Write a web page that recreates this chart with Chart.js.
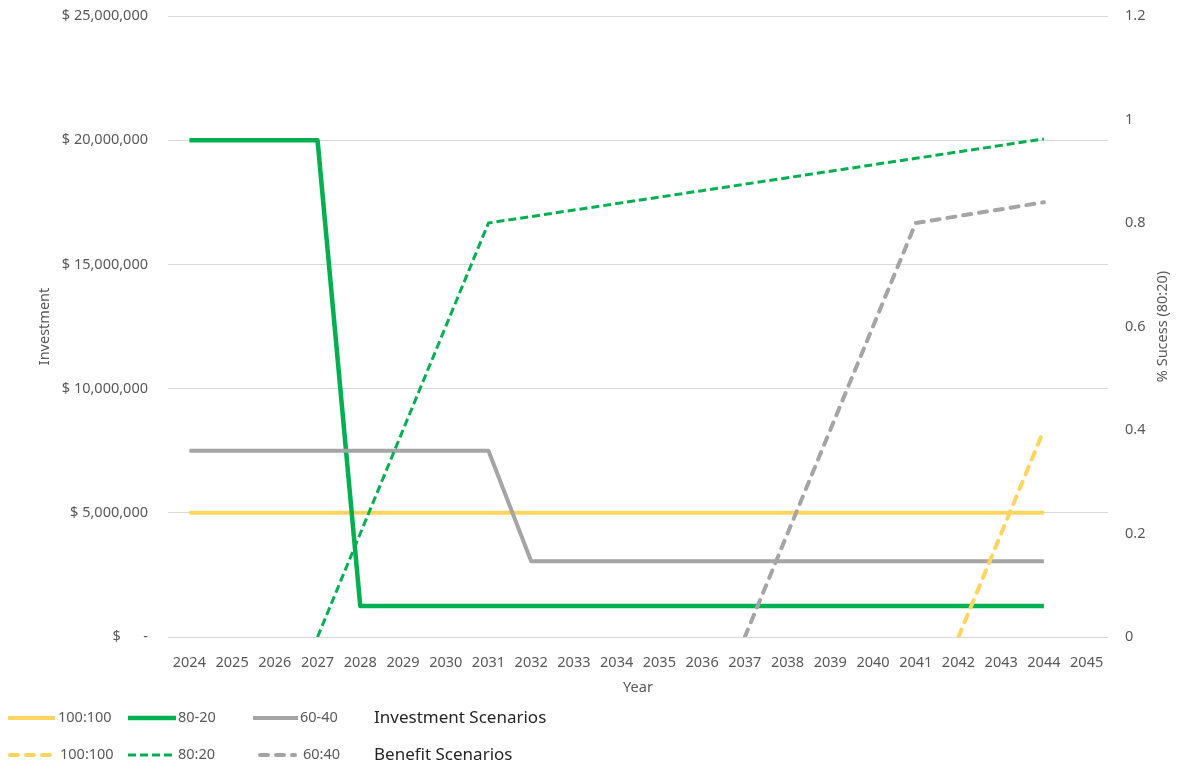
<!DOCTYPE html>
<html>
<head>
<meta charset="utf-8">
<script src="https://cdn.jsdelivr.net/npm/chart.js@4.4.1/dist/chart.umd.min.js"></script>
<style>
  html, body { margin: 0; padding: 0; background: #ffffff; }
  #wrap { width: 1177px; height: 766px; }
</style>
</head>
<body>
<div id="wrap"><canvas id="c" width="1177" height="766"></canvas></div>
<script>
// ---- Data ----
const years = ['2024','2025','2026','2027','2028','2029','2030','2031','2032','2033','2034',
               '2035','2036','2037','2038','2039','2040','2041','2042','2043','2044','2045'];

const invest100 = [5000000,5000000,5000000,5000000,5000000,5000000,5000000,5000000,5000000,5000000,5000000,
                   5000000,5000000,5000000,5000000,5000000,5000000,5000000,5000000,5000000,5000000,null];
const invest80  = [20000000,20000000,20000000,20000000,1250000,1250000,1250000,1250000,1250000,1250000,1250000,
                   1250000,1250000,1250000,1250000,1250000,1250000,1250000,1250000,1250000,1250000,null];
const invest60  = [7500000,7500000,7500000,7500000,7500000,7500000,7500000,7500000,3050000,3050000,3050000,
                   3050000,3050000,3050000,3050000,3050000,3050000,3050000,3050000,3050000,3050000,null];

const benefit100 = [null,null,null,null,null,null,null,null,null,null,null,
                    null,null,null,null,null,null,null,0,0.2,0.4,null];
const benefit80  = [null,null,null,0,0.2,0.4,0.6,0.8,0.8125,0.825,0.8375,
                    0.85,0.8625,0.875,0.8875,0.9,0.9125,0.925,0.9375,0.95,0.9625,null];
const benefit60  = [null,null,null,null,null,null,null,null,null,null,null,
                    null,null,0,0.2,0.4,0.6,0.8,0.8133,0.8267,0.84,null];

const investTicks = [0, 5000000, 10000000, 15000000, 20000000, 25000000];
const successTicks = [0, 0.2, 0.4, 0.6, 0.8, 1, 1.2];

// ---- Style ----
const YELLOW = '#FFD55F';
const GREEN = '#00B050';
const GRAY = '#A5A5A5';
const TXT = '#595959';
const FONT = '"Noto Sans", sans-serif';

function fmtMoney(v) {
  if (v === 0) return '$      -';
  return '$ ' + v.toLocaleString('en-US');
}

const overlay = {
  id: 'overlay',
  afterDraw(chart) {
    const ctx = chart.ctx;
    const ca = chart.chartArea;
    ctx.save();
    ctx.fillStyle = TXT;
    ctx.font = '14.5px ' + FONT;
    ctx.textAlign = 'center';
    ctx.textBaseline = 'middle';
    const midY = (ca.top + ca.bottom) / 2;
    ctx.save(); ctx.translate(45, midY); ctx.rotate(-Math.PI / 2); ctx.fillText('Investment', 0, 0); ctx.restore();
    ctx.save(); ctx.translate(1163, midY); ctx.rotate(-Math.PI / 2); ctx.fillText('% Sucess (80:20)', 0, 0); ctx.restore();
    ctx.fillText('Year', (ca.left + ca.right) / 2, 688);

    const ds = chart.data.datasets;
    const rows = [
      { y: 718, items: [[0, 8, 55, 58], [1, 128, 176, 178], [2, 253, 298, 300]], title: 'Investment Scenarios' },
      { y: 755, items: [[3, 10, 52, 60], [4, 128, 176, 178], [5, 260, 295, 303]], title: 'Benefit Scenarios' }
    ];
    rows.forEach(r => {
      r.items.forEach(([i, x0, x1, tx]) => {
        const d = ds[i];
        ctx.save();
        ctx.strokeStyle = d.borderColor;
        ctx.lineWidth = d.borderWidth;
        ctx.lineCap = d.borderCapStyle || 'butt';
        ctx.setLineDash(d.borderDash || []);
        ctx.beginPath(); ctx.moveTo(x0, r.y); ctx.lineTo(x1, r.y); ctx.stroke();
        ctx.restore();
        ctx.fillStyle = TXT;
        ctx.font = '14.5px ' + FONT;
        ctx.textAlign = 'left';
        ctx.textBaseline = 'middle';
        ctx.fillText(d.label, tx, r.y);
      });
      ctx.fillStyle = '#262626';
      ctx.font = '17px ' + FONT;
      ctx.textAlign = 'left';
      ctx.textBaseline = 'middle';
      ctx.fillText(r.title, 374, r.y);
    });
    ctx.restore();
  }
};

new Chart(document.getElementById('c'), {
  type: 'line',
  data: {
    labels: years,
    datasets: [
      { label: '100:100', data: invest100, yAxisID: 'y', borderColor: YELLOW, backgroundColor: YELLOW, borderWidth: 4, borderCapStyle: 'butt', order: 6 },
      { label: '80-20', data: invest80, yAxisID: 'y', borderColor: GREEN, backgroundColor: GREEN, borderWidth: 4.5, borderCapStyle: 'butt', order: 5 },
      { label: '60-40', data: invest60, yAxisID: 'y', borderColor: GRAY, backgroundColor: GRAY, borderWidth: 4, borderCapStyle: 'butt', order: 4 },
      { label: '100:100', data: benefit100, yAxisID: 'y1', borderColor: YELLOW, backgroundColor: YELLOW, borderWidth: 4, borderDash: [8, 8], borderCapStyle: 'round', order: 3 },
      { label: '80:20', data: benefit80, yAxisID: 'y1', borderColor: GREEN, backgroundColor: GREEN, borderWidth: 3, borderDash: [8, 4], borderCapStyle: 'butt', order: 2 },
      { label: '60:40', data: benefit60, yAxisID: 'y1', borderColor: GRAY, backgroundColor: GRAY, borderWidth: 4, borderDash: [8, 8], borderCapStyle: 'round', order: 1 }
    ]
  },
  options: {
    responsive: false,
    animation: false,
    devicePixelRatio: 1,
    elements: { point: { radius: 0, hoverRadius: 0 }, line: { tension: 0, borderJoinStyle: 'round' } },
    layout: { padding: { top: 16, bottom: 80, left: 0, right: 0 } },
    plugins: { legend: { display: false }, tooltip: { enabled: false } },
    scales: {
      x: {
        type: 'category',
        offset: true,
        grid: { display: false },
        border: { display: false },
        ticks: { color: TXT, font: { family: FONT, size: 14.5 }, padding: 9, autoSkip: false, maxRotation: 0 },
        afterFit(s) { s.height = 49; s.paddingLeft = 0; s.paddingRight = 0; }
      },
      y: {
        position: 'left',
        min: 0, max: 25000000,
        afterBuildTicks(s) { s.ticks = investTicks.map(v => ({ value: v })); },
        grid: { color: '#D9D9D9', lineWidth: 1, drawTicks: false },
        border: { display: false },
        ticks: { color: TXT, font: { family: FONT, size: 14.5 }, padding: 20, callback: v => fmtMoney(v) },
        afterFit(s) { s.width = 168; s.paddingTop = 0; s.paddingBottom = 0; }
      },
      y1: {
        position: 'right',
        min: 0, max: 1.2,
        afterBuildTicks(s) { s.ticks = successTicks.map(v => ({ value: v })); },
        grid: { drawOnChartArea: false, drawTicks: false },
        border: { display: false },
        ticks: { color: TXT, font: { family: FONT, size: 14.5 }, padding: 17, callback: v => String(+v.toFixed(1)) },
        afterFit(s) { s.width = 69; s.paddingTop = 0; s.paddingBottom = 0; }
      }
    }
  },
  plugins: [overlay]
});
</script>
</body>
</html>
